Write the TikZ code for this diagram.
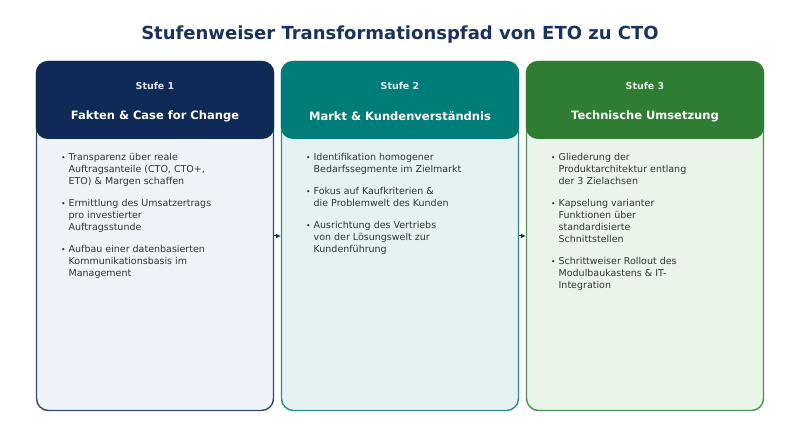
\documentclass[tikz,border=0pt]{standalone}
\usepackage{fontspec}
\setmainfont{DejaVu Sans}
\usetikzlibrary{arrows.meta}
\definecolor{navy}{HTML}{0F2A56}
\definecolor{teal2}{HTML}{007D79}
\definecolor{green2}{HTML}{2E7D32}
\definecolor{bodyA}{HTML}{EFF2F8}
\definecolor{bodyB}{HTML}{E6F2F2}
\definecolor{bodyC}{HTML}{E9F5E9}
\definecolor{titlec}{HTML}{1B325E}
\definecolor{txt}{HTML}{333333}
\tikzset{
  x=1pt, y=1pt,
  bodybox/.style={draw=#1!85!white, line width=1.4pt, rounded corners=12pt, minimum width=237pt, minimum height=349pt, inner sep=0pt},
  headbox/.style={fill=#1, draw=none, rounded corners=12pt, minimum width=238.4pt, minimum height=78pt, inner sep=0pt},
  stufe/.style={font=\bfseries\fontsize{9.5}{11}\selectfont, text=white, opacity=0.88},
  htitle/.style={font=\bfseries\fontsize{11.5}{13}\selectfont, text=white},
  bullets/.style={font=\fontsize{9.5}{12}\selectfont, text=txt, inner sep=0pt, anchor=base west},
  flow/.style={-{Latex[length=5pt,width=5pt]}, navy, line width=1pt}
}
\newcommand{\bl}{\raisebox{0.5pt}{\scalebox{0.8}{\textbullet}}}
\begin{document}
\begin{tikzpicture}
\useasboundingbox (0,0) rectangle (800,447);
\node[font=\bfseries\fontsize{18}{21}\selectfont, text=titlec] (title) at (400,412) {Stufenweiser Transformationspfad von ETO zu CTO};

% bodies
\node[bodybox=navy, fill=bodyA] (b1) at (155,211) {};
\node[bodybox=teal2, fill=bodyB] (b2) at (400,211) {};
\node[bodybox=green2, fill=bodyC] (b3) at (645,211) {};

% headers
\node[headbox=navy] (h1) at (155,347) {};
\node[headbox=teal2] (h2) at (400,347) {};
\node[headbox=green2] (h3) at (645,347) {};

\node[stufe] (s1) at (155,361.5) {Stufe 1};
\node[stufe] (s2) at (400,361.5) {Stufe 2};
\node[stufe] (s3) at (645,361.5) {Stufe 3};
\node[htitle] (t1) at (155,331) {Fakten \& Case for Change};
\node[htitle] (t2) at (400,331) {Markt \& Kundenverständnis};
\node[htitle] (t3) at (645,331) {Technische Umsetzung};

% bullets
\node[bullets] (l1) at (61,286) {\begin{tabular}[t]{@{}l@{\hspace{3pt}}l@{}}
\bl & Transparenz über reale\\
 & Auftragsanteile (CTO, CTO+,\\
 & ETO) \& Margen schaffen\\[10pt]
\bl & Ermittlung des Umsatzertrags\\
 & pro investierter\\
 & Auftragsstunde\\[10pt]
\bl & Aufbau einer datenbasierten\\
 & Kommunikationsbasis im\\
 & Management
\end{tabular}};
\node[bullets] (l2) at (306,286) {\begin{tabular}[t]{@{}l@{\hspace{3pt}}l@{}}
\bl & Identifikation homogener\\
 & Bedarfssegmente im Zielmarkt\\[10pt]
\bl & Fokus auf Kaufkriterien \&\\
 & die Problemwelt des Kunden\\[10pt]
\bl & Ausrichtung des Vertriebs\\
 & von der Lösungswelt zur\\
 & Kundenführung
\end{tabular}};
\node[bullets] (l3) at (551,286) {\begin{tabular}[t]{@{}l@{\hspace{3pt}}l@{}}
\bl & Gliederung der\\
 & Produktarchitektur entlang\\
 & der 3 Zielachsen\\[10pt]
\bl & Kapselung varianter\\
 & Funktionen über\\
 & standardisierte\\
 & Schnittstellen\\[10pt]
\bl & Schrittweiser Rollout des\\
 & Modulbaukastens \& IT-\\
 & Integration
\end{tabular}};

% connectors
\draw[flow] (b1.east) -- (b2.west);
\draw[flow] (b2.east) -- (b3.west);
\end{tikzpicture}
\end{document}
